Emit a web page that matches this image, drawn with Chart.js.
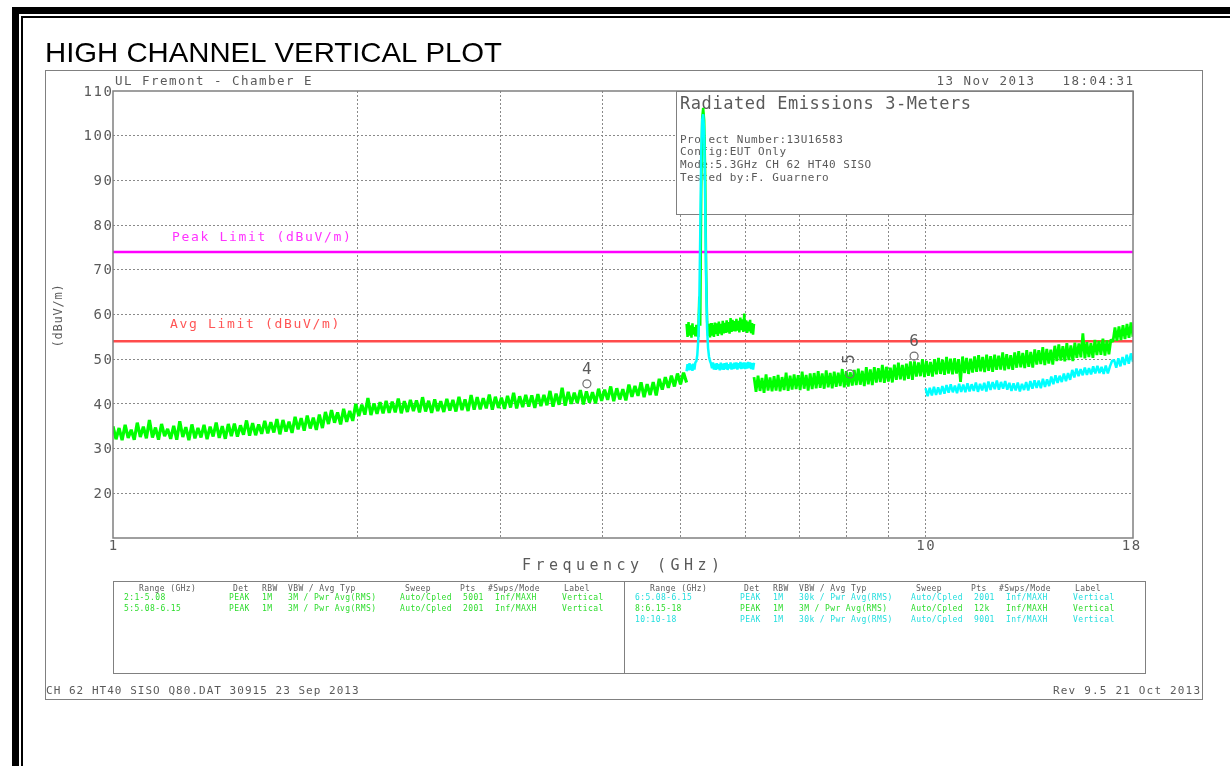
<!DOCTYPE html>
<html>
<head>
<meta charset="utf-8">
<title>High channel vertical plot</title>
<script src="https://cdn.jsdelivr.net/npm/chart.js@4/dist/chart.umd.min.js"></script>
<style>
html, body { margin: 0; padding: 0; background: #fff; }
canvas { display: block; }
</style>
</head>
<body>
<canvas id="plot" width="1230" height="766"></canvas>
<script>
// sweep ranges in GHz, values in dBuV/m (max-hold noise band)
const greenLowRange = [1, 5.08];
const greenLowVals = [
  35.0, 32.1, 34.6, 31.9, 35.3, 32.4, 34.2, 32.0, 35.8, 32.6,
  34.9, 32.3, 36.4, 32.5, 34.7, 32.0, 35.5, 32.8, 34.4, 32.2,
  35.1, 32.0, 36.1, 32.6, 34.8, 31.9, 35.4, 32.3, 34.6, 32.5,
  35.3, 32.1, 34.9, 32.7, 35.8, 32.4, 35.0, 32.2, 35.5, 32.8,
  35.6, 32.7, 35.2, 33.1, 36.3, 32.9, 35.7, 33.0, 35.4, 33.3,
  36.2, 33.4, 35.9, 33.6, 36.6, 33.2, 36.4, 33.8, 36.0, 33.5,
  37.1, 34.3, 36.8, 34.0, 37.4, 34.5, 36.9, 34.2, 37.6, 34.6,
  38.2, 35.5, 38.6, 35.8, 38.1, 35.4, 38.9, 36.0, 38.4, 36.2,
  40.0, 37.3, 39.8, 37.6, 41.3, 37.5, 40.1, 37.8, 40.4, 37.9,
  40.7, 38.0, 40.5, 38.1, 41.2, 37.9, 40.6, 38.2, 40.9, 38.4,
  40.8, 38.1, 41.5, 38.3, 40.7, 38.0, 41.0, 38.4, 40.6, 38.2,
  41.1, 38.5, 40.9, 38.3, 41.6, 38.6, 41.0, 38.4, 42.0, 38.7,
  41.5, 38.8, 41.3, 39.0, 42.1, 38.7, 41.6, 39.1, 41.4, 38.9,
  41.8, 39.2, 42.5, 39.0, 41.7, 39.3, 42.0, 39.4, 41.9, 39.1,
  42.2, 39.5, 42.0, 39.7, 42.9, 39.4, 42.3, 39.8, 43.6, 39.6,
  42.7, 40.0, 42.5, 40.2, 43.1, 39.9, 42.8, 40.3, 42.6, 40.1,
  43.4, 40.7, 43.2, 40.9, 43.9, 40.6, 43.5, 41.0, 43.3, 40.8,
  44.3, 41.6, 44.0, 41.8, 44.8, 41.5, 44.4, 42.0, 44.9, 41.9,
  45.6, 43.2, 46.0, 43.6, 46.3, 43.9, 46.8, 44.4, 47.0, 44.8
];

const bandRange = [5.08, 6.15];
const greenBandVals = [
  57.9, 55.0, 58.3, 55.3, 57.6, 54.8, 58.0, 55.5, 57.2, 55.1,
  57.7, 55.4, 55.0, 64.0, 57.5, 88.0, 104.0, 106.2, 103.5, 92.0,
  70.0, 58.5, 55.2, 57.9, 54.9, 58.1, 55.3, 57.6, 55.0, 58.2,
  55.6, 58.0, 55.2, 58.4, 55.7, 57.9, 55.4, 58.6, 55.8, 58.1,
  55.9, 58.7, 56.0, 58.3, 55.7, 59.2, 56.1, 58.8, 56.3, 58.5,
  56.2, 59.0, 56.4, 58.6, 56.0, 59.3, 56.5, 58.9, 56.1, 60.2,
  56.3, 58.7, 55.9, 58.4, 56.2, 58.8, 55.8, 58.1, 55.5, 57.9
];
const cyanBandVals = [
  47.3, 48.9, 47.5, 49.1, 47.6, 48.8, 47.4, 49.0, 47.7, 49.3,
  49.5, 51.0, 54.5, 62.0, 78.0, 96.0, 103.5, 104.8, 101.0, 86.0,
  68.0, 57.0, 52.5, 50.5, 49.6, 49.0, 48.0, 49.3, 47.7, 49.0,
  47.6, 49.1, 47.8, 48.9, 47.5, 49.2, 47.7, 49.0, 47.6, 49.1,
  47.8, 49.2, 47.6, 48.9, 47.9, 49.3, 47.7, 49.0, 47.8, 49.2,
  47.9, 49.3, 47.7, 49.1, 48.0, 49.4, 47.8, 49.2, 47.9, 49.3,
  47.8, 49.2, 47.9, 49.4, 48.0, 49.3, 47.8, 49.1, 47.7, 49.2
];

const greenHighRange = [6.15, 18];
const greenHighVals = [
  46.0, 42.7, 46.3, 42.9, 45.8, 42.5, 46.6, 43.0, 45.9, 42.8,
  46.2, 43.0, 46.5, 42.8, 46.0, 43.1, 47.0, 42.9, 46.3, 43.2,
  46.6, 43.3, 46.4, 43.1, 47.2, 43.4, 46.5, 43.0, 46.8, 43.3,
  46.9, 43.5, 47.3, 43.6, 46.8, 43.4, 47.5, 43.7, 46.9, 43.5,
  47.2, 43.8, 47.0, 44.0, 47.8, 43.7, 47.3, 43.9, 47.1, 44.1,
  47.6, 44.2, 47.9, 44.3, 47.4, 44.0, 48.2, 44.4, 47.7, 44.2,
  48.2, 44.8, 48.0, 44.9, 48.7, 44.7, 48.3, 45.0, 48.1, 44.8,
  48.8, 45.4, 49.2, 45.5, 48.7, 45.3, 49.0, 45.6, 49.5, 45.4,
  49.5, 46.1, 49.3, 46.2, 50.0, 46.0, 49.6, 46.3, 49.4, 46.1,
  50.0, 46.6, 50.3, 46.7, 49.9, 46.5, 50.5, 46.8, 50.1, 46.6,
  50.2, 46.8, 50.0, 44.9, 50.6, 46.9, 50.3, 46.7, 50.1, 47.0,
  50.6, 47.2, 50.9, 47.3, 50.5, 47.1, 51.0, 47.4, 50.7, 47.2,
  51.0, 47.6, 50.8, 47.7, 51.5, 47.5, 51.1, 47.8, 50.9, 47.6,
  51.5, 48.1, 51.8, 48.2, 51.4, 48.0, 52.0, 48.3, 51.6, 48.1,
  52.2, 48.8, 52.0, 48.9, 52.7, 48.7, 52.3, 49.0, 52.1, 48.8,
  53.0, 49.6, 53.3, 49.7, 52.9, 49.5, 53.6, 49.8, 53.1, 49.6,
  53.7, 50.3, 53.5, 50.4, 55.8, 50.2, 53.8, 50.5, 53.6, 50.3,
  54.3, 50.9, 54.1, 51.0, 54.6, 50.8, 54.2, 51.1, 54.4, 53.9,
  57.1, 54.1, 57.3, 54.3, 57.6, 54.5, 57.9, 54.8, 58.2, 55.0
];

const cyanHighRange = [10, 18];
const cyanHighVals = [
  43.5, 41.7, 43.6, 41.9, 43.8, 42.0, 43.7, 42.1, 44.0, 42.3,
  44.2, 42.5, 44.4, 42.6, 44.1, 42.4, 44.5, 42.7, 44.3, 42.6,
  44.6, 42.8, 44.4, 42.9, 44.8, 42.7, 44.5, 43.0, 44.7, 42.8,
  45.0, 43.1, 44.9, 43.3, 45.2, 43.2, 44.9, 43.4, 45.1, 43.2,
  44.7, 42.9, 44.6, 43.0, 44.8, 42.8, 44.5, 43.1, 44.9, 43.0,
  45.1, 43.4, 45.3, 43.6, 45.2, 43.5, 45.6, 43.8, 45.5, 44.0,
  46.1, 44.4, 46.4, 44.7, 46.3, 44.9, 46.8, 45.1, 46.9, 45.4,
  47.6, 45.9, 47.9, 46.2, 47.8, 46.4, 48.1, 46.5, 48.0, 46.6,
  48.4, 46.8, 48.5, 46.9, 48.3, 46.7, 48.6, 46.8, 48.4, 49.6,
  49.8, 48.1, 50.2, 48.4, 50.5, 48.7, 51.0, 49.0, 51.3, 49.4
];

const peakLimit = 74;
const avgLimit = 54;

const markerNames = ['4', '5', '6'];
const markerFreqs = [3.83, 8.07, 9.68];
const markerLevels = [44.5, 46.7, 50.7];

const xGridVals = [2, 3, 4, 5, 6, 7, 8, 9, 10];
const xTickVals = [1, 10, 18];
const yTickVals = [20, 30, 40, 50, 60, 70, 80, 90, 100, 110];

const tableHead = ['Range (GHz)', 'Det', 'RBW', 'VBW / Avg Typ', 'Sweep', 'Pts', '#Swps/Mode', 'Label'];
const tableLeft = [
  ['2:1-5.08', 'PEAK', '1M', '3M / Pwr Avg(RMS)', 'Auto/Cpled', '5001', 'Inf/MAXH', 'Vertical'],
  ['5:5.08-6.15', 'PEAK', '1M', '3M / Pwr Avg(RMS)', 'Auto/Cpled', '2001', 'Inf/MAXH', 'Vertical']
];
const tableRight = [
  ['6:5.08-6.15', 'PEAK', '1M', '30k / Pwr Avg(RMS)', 'Auto/Cpled', '2001', 'Inf/MAXH', 'Vertical'],
  ['8:6.15-18', 'PEAK', '1M', '3M / Pwr Avg(RMS)', 'Auto/Cpled', '12k', 'Inf/MAXH', 'Vertical'],
  ['10:10-18', 'PEAK', '1M', '30k / Pwr Avg(RMS)', 'Auto/Cpled', '9001', 'Inf/MAXH', 'Vertical']
];
const tableRightColors = ['#22dede', '#2edc2e', '#22dede'];

const GREEN = '#00ff00';
const CYAN = '#00ffff';
const INK = '#5a5a5a';
const LINE = '#808080';
const MONO = '"DejaVu Sans Mono", "Liberation Mono", monospace';

// analyzer sweep points between start and stop
function sweep(range, vals) {
  const a = range[0], b = range[1], n = vals.length;
  return vals.map((v, i) => ({ x: a * Math.pow(b / a, i / (n - 1)), y: v }));
}

// plotter style text: fixed advance per character
function mono(ctx, s, x, y, adv, size, color, align) {
  ctx.font = size + 'px ' + MONO;
  ctx.fillStyle = color;
  ctx.textAlign = 'left';
  ctx.textBaseline = 'middle';
  const gw = ctx.measureText('M').width;
  const total = (s.length - 1) * adv + gw;
  let x0 = x;
  if (align === 'right') x0 = x - total;
  else if (align === 'center') x0 = x - total / 2;
  for (let i = 0; i < s.length; i++) {
    ctx.fillText(s[i], x0 + i * adv, y);
  }
}

function tableRow(ctx, cells, left, offsets, y, color) {
  cells.forEach((c, i) => mono(ctx, c, left + offsets[i], y, 5.2, 8, color, 'left'));
}

const decor = {
  id: 'decor',
  beforeDraw(chart) {
    const ctx = chart.ctx;
    ctx.save();
    ctx.fillStyle = '#fff';
    ctx.fillRect(0, 0, 1230, 766);

    // page border
    ctx.fillStyle = '#000';
    ctx.fillRect(12, 7, 1218, 7);
    ctx.fillRect(12, 7, 7, 759);
    ctx.fillRect(21, 16, 1209, 2);
    ctx.fillRect(21, 16, 2, 750);

    // title
    const title = 'HIGH CHANNEL VERTICAL PLOT';
    ctx.font = '28px "Liberation Sans", Arial, sans-serif';
    ctx.textAlign = 'left';
    ctx.textBaseline = 'alphabetic';
    const tw = ctx.measureText(title).width;
    ctx.save();
    ctx.translate(45, 62);
    ctx.scale(457 / tw, 1);
    ctx.fillText(title, 0, 0);
    ctx.restore();

    // outer frame
    ctx.strokeStyle = LINE;
    ctx.lineWidth = 1;
    ctx.strokeRect(45.5, 70.5, 1157, 629);

    mono(ctx, 'UL Fremont - Chamber E', 115, 82, 9, 12.5, INK, 'left');
    mono(ctx, '13 Nov 2013   18:04:31', 1133, 82, 9, 12.5, INK, 'right');

    // settings table
    ctx.strokeStyle = LINE;
    ctx.strokeRect(113.5, 581.5, 1032, 92);
    ctx.beginPath();
    ctx.moveTo(624.5, 581);
    ctx.lineTo(624.5, 673);
    ctx.stroke();
    const headOff = [26, 120, 149, 175, 292, 347, 375, 451];
    const rowOff = [11, 116, 149, 175, 287, 350, 382, 449];
    const rowY = [598, 609, 620];
    [113, 624].forEach(left => tableRow(ctx, tableHead, left, headOff, 589, INK));
    tableLeft.forEach((r, i) => tableRow(ctx, r, 113, rowOff, rowY[i], '#2edc2e'));
    tableRight.forEach((r, i) => tableRow(ctx, r, 624, rowOff, rowY[i], tableRightColors[i]));

    // footer
    mono(ctx, 'CH 62 HT40 SISO Q80.DAT 30915 23 Sep 2013', 46, 691, 7.65, 11, INK, 'left');
    mono(ctx, 'Rev 9.5 21 Oct 2013', 1200, 691, 7.8, 11, INK, 'right');
    ctx.restore();
  },
  beforeDatasetsDraw(chart) {
    const ctx = chart.ctx;
    const area = chart.chartArea;
    const ys = chart.scales.y;
    ctx.save();
    // info box in the upper right of the plot
    ctx.fillStyle = '#fff';
    ctx.fillRect(676, area.top, area.right - 676, 123);
    ctx.strokeStyle = LINE;
    ctx.lineWidth = 1;
    ctx.strokeRect(676.5, area.top + 0.5, area.right - 676, 123);
    mono(ctx, 'Radiated Emissions 3-Meters', 680, 105, 10.8, 17, INK, 'left');
    mono(ctx, 'Project Number:13U16583', 680, 140, 7.1, 11, INK, 'left');
    mono(ctx, 'Config:EUT Only', 680, 152.5, 7.1, 11, INK, 'left');
    mono(ctx, 'Mode:5.3GHz CH 62 HT40 SISO', 680, 165, 7.1, 11, INK, 'left');
    mono(ctx, 'Tested by:F. Guarnero', 680, 178, 7.1, 11, INK, 'left');

    mono(ctx, 'Peak Limit (dBuV/m)', 172, ys.getPixelForValue(peakLimit) - 14, 9.5, 13, '#ff33ff', 'left');
    mono(ctx, 'Avg Limit (dBuV/m)', 170, ys.getPixelForValue(avgLimit) - 17, 9.5, 13, '#ff5555', 'left');
    ctx.restore();
  },
  afterDatasetsDraw(chart) {
    const ctx = chart.ctx;
    const area = chart.chartArea;
    const xs = chart.scales.x, ys = chart.scales.y;
    ctx.save();
    ctx.strokeStyle = LINE;
    ctx.lineWidth = 1.5;
    ctx.strokeRect(area.left, area.top, area.right - area.left, area.bottom - area.top);

    yTickVals.forEach(v => mono(ctx, String(v), 112, ys.getPixelForValue(v) + 1, 10, 14, INK, 'right'));
    xTickVals.forEach(v => mono(ctx, String(v), xs.getPixelForValue(v) - (v === 18 ? 2 : 0), 546, 10, 14, INK, 'center'));

    mono(ctx, 'Frequency (GHz)', 621, 566, 13.5, 15, INK, 'center');
    ctx.save();
    ctx.translate(59, 316);
    ctx.rotate(-Math.PI / 2);
    mono(ctx, '(dBuV/m)', 0, 0, 8, 12, INK, 'center');
    ctx.restore();

    markerNames.forEach((name, i) => {
      const px = xs.getPixelForValue(markerFreqs[i]);
      const py = ys.getPixelForValue(markerLevels[i]);
      if (name === '5') {
        ctx.save();
        ctx.translate(px, py - 15);
        ctx.rotate(-Math.PI / 2);
        mono(ctx, name, 0, 0, 10, 16, INK, 'center');
        ctx.restore();
      } else {
        mono(ctx, name, px, py - 14, 10, 16, INK, 'center');
      }
    });
    ctx.restore();
  }
};

const lineSet = (label, data, color, order, width) => ({
  label, data, showLine: true, borderColor: color, backgroundColor: color,
  borderWidth: width, pointRadius: 0, order
});

new Chart(document.getElementById('plot'), {
  type: 'scatter',
  data: {
    datasets: [
      {
        label: 'Markers',
        data: markerFreqs.map((f, i) => ({ x: f, y: markerLevels[i] })),
        showLine: false, pointRadius: 4, pointBorderWidth: 1.2,
        pointBorderColor: '#707070', pointBackgroundColor: 'rgba(0,0,0,0)', order: 0
      },
      lineSet('6:5.08-6.15', sweep(bandRange, cyanBandVals), CYAN, 1, 2.5),
      lineSet('10:10-18', sweep(cyanHighRange, cyanHighVals), CYAN, 1, 2.5),
      lineSet('2:1-5.08', sweep(greenLowRange, greenLowVals), GREEN, 2, 3.2),
      lineSet('5:5.08-6.15', sweep(bandRange, greenBandVals), GREEN, 2, 2.5),
      lineSet('8:6.15-18', sweep(greenHighRange, greenHighVals), GREEN, 2, 2.8),
      lineSet('Peak Limit', [{ x: 1, y: peakLimit }, { x: 18, y: peakLimit }], '#ff00ff', 3, 2.5),
      lineSet('Avg Limit', [{ x: 1, y: avgLimit }, { x: 18, y: avgLimit }], '#ff4c4c', 3, 2.5)
    ]
  },
  options: {
    responsive: false,
    animation: false,
    devicePixelRatio: 1,
    events: [],
    layout: { padding: { left: 0, top: 91, right: 97, bottom: 0 } },
    elements: { line: { tension: 0, borderJoinStyle: 'bevel' } },
    plugins: { legend: { display: false }, tooltip: { enabled: false } },
    scales: {
      x: {
        type: 'logarithmic',
        min: 1,
        max: 18,
        afterBuildTicks: s => { s.ticks = xGridVals.map(v => ({ value: v })); },
        afterFit: s => { s.height = 766 - 538; },
        ticks: { display: false },
        grid: { color: '#8a8a8a', lineWidth: 1, drawTicks: false },
        border: { display: false, dash: [2, 2] }
      },
      y: {
        min: 10,
        max: 110,
        afterBuildTicks: s => { s.ticks = yTickVals.filter(v => v < 110).map(v => ({ value: v })); },
        afterFit: s => { s.width = 113; },
        ticks: { display: false },
        grid: { color: '#8a8a8a', lineWidth: 1, drawTicks: false },
        border: { display: false, dash: [2, 2] }
      }
    }
  },
  plugins: [decor]
});
</script>
</body>
</html>
